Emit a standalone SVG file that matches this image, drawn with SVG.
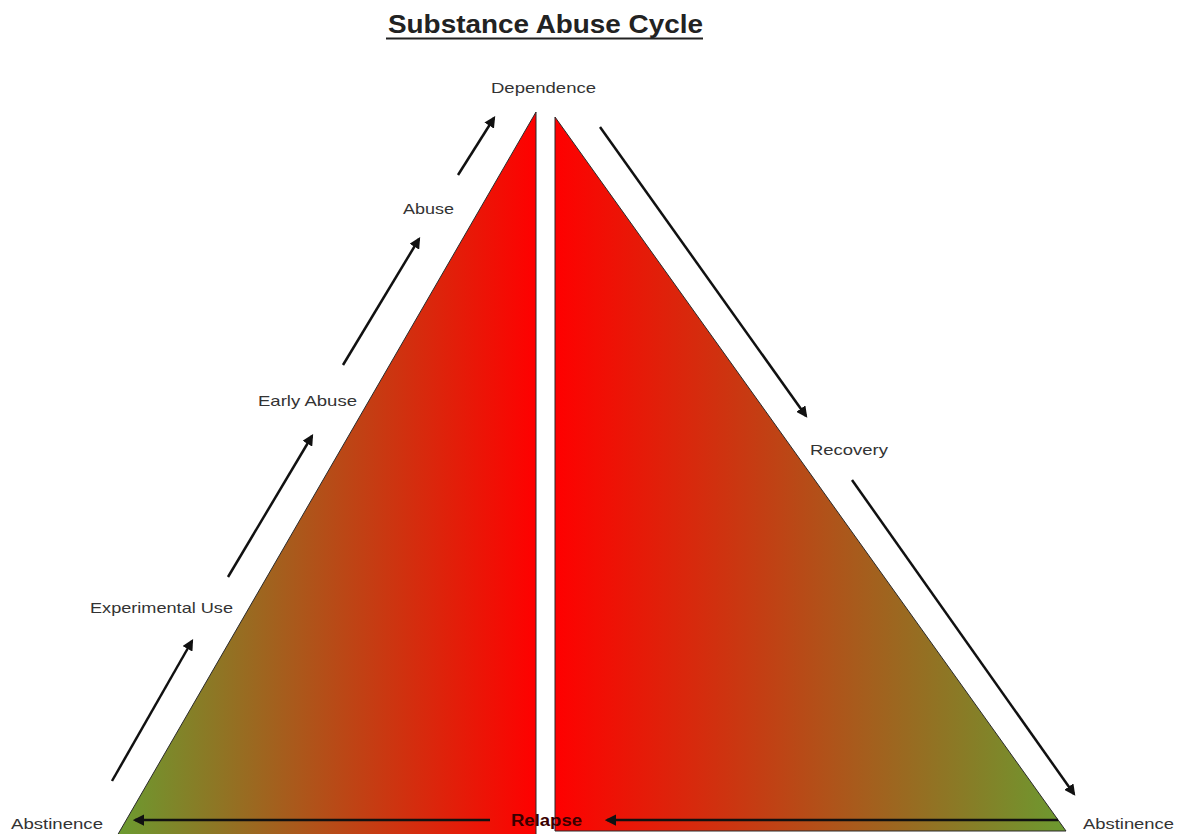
<svg xmlns="http://www.w3.org/2000/svg" width="1186" height="834" viewBox="0 0 1186 834">
<defs>
<linearGradient id="gL" gradientUnits="userSpaceOnUse" x1="117" y1="0" x2="536" y2="0">
<stop offset="0" stop-color="#6B9B30"/><stop offset="1" stop-color="#FF0000"/>
</linearGradient>
<linearGradient id="gR" gradientUnits="userSpaceOnUse" x1="555" y1="0" x2="1068" y2="0">
<stop offset="0" stop-color="#FF0000"/><stop offset="1" stop-color="#6B9B30"/>
</linearGradient>
<marker id="ah" viewBox="0 0 10 10" refX="8" refY="5" markerWidth="4.5" markerHeight="4.5" orient="auto" markerUnits="strokeWidth">
<path d="M0,0 L10,5 L0,10 z" fill="#111"/>
</marker>
<style>
.lbl{font-family:"Liberation Sans",Arial,sans-serif;font-size:15px;fill:#333;}
.arr{stroke:#111;stroke-width:2.5;fill:none;marker-end:url(#ah);}
.tri{stroke:#2a2a2a;stroke-width:1;}
</style>
</defs>
<rect width="1186" height="834" fill="#fff"/>
<g id="title">
<text x="388" y="33" font-family="Liberation Sans, Arial, sans-serif" font-weight="bold" font-size="26" fill="#222" textLength="315" lengthAdjust="spacingAndGlyphs">Substance Abuse Cycle</text>
<line x1="386" y1="38.5" x2="703" y2="38.5" stroke="#222" stroke-width="2"/>
</g>
<g id="left-triangle">
<polygon class="tri" points="536,112 536,836 117,836" fill="url(#gL)"/>
</g>
<g id="right-triangle">
<polygon class="tri" points="555,117 1066,831 555,831" fill="url(#gR)"/>
</g>
<g id="connectors">
<line class="arr" x1="112" y1="781" x2="192" y2="641"/>
<line class="arr" x1="228" y1="577" x2="312" y2="436"/>
<line class="arr" x1="343" y1="365" x2="419" y2="239"/>
<line class="arr" x1="458" y1="175" x2="494" y2="118"/>
<line class="arr" x1="600" y1="127" x2="806" y2="416"/>
<line class="arr" x1="852" y1="480" x2="1074" y2="794"/>
<line class="arr" x1="490" y1="820" x2="135" y2="820"/>
<line class="arr" x1="1058" y1="820" x2="607" y2="820"/>
</g>
<g id="labels">
<g id="n-dependence"><text class="lbl" x="491" y="93" textLength="105" lengthAdjust="spacingAndGlyphs">Dependence</text></g>
<g id="n-abuse"><text class="lbl" x="403" y="214" textLength="51" lengthAdjust="spacingAndGlyphs">Abuse</text></g>
<g id="n-early"><text class="lbl" x="258" y="406" textLength="99" lengthAdjust="spacingAndGlyphs">Early Abuse</text></g>
<g id="n-exp"><text class="lbl" x="90" y="613" textLength="143" lengthAdjust="spacingAndGlyphs">Experimental Use</text></g>
<g id="n-abs-l"><text class="lbl" x="11" y="829" textLength="92" lengthAdjust="spacingAndGlyphs">Abstinence</text></g>
<g id="n-abs-r"><text class="lbl" x="1083" y="829" textLength="91" lengthAdjust="spacingAndGlyphs">Abstinence</text></g>
<g id="n-recovery"><text class="lbl" x="810" y="455" textLength="78" lengthAdjust="spacingAndGlyphs">Recovery</text></g>
<g id="n-relapse"><text x="511" y="826" font-family="Liberation Sans, Arial, sans-serif" font-weight="bold" font-size="16" fill="#3a0000" textLength="71" lengthAdjust="spacingAndGlyphs">Relapse</text></g>
</g>
</svg>
